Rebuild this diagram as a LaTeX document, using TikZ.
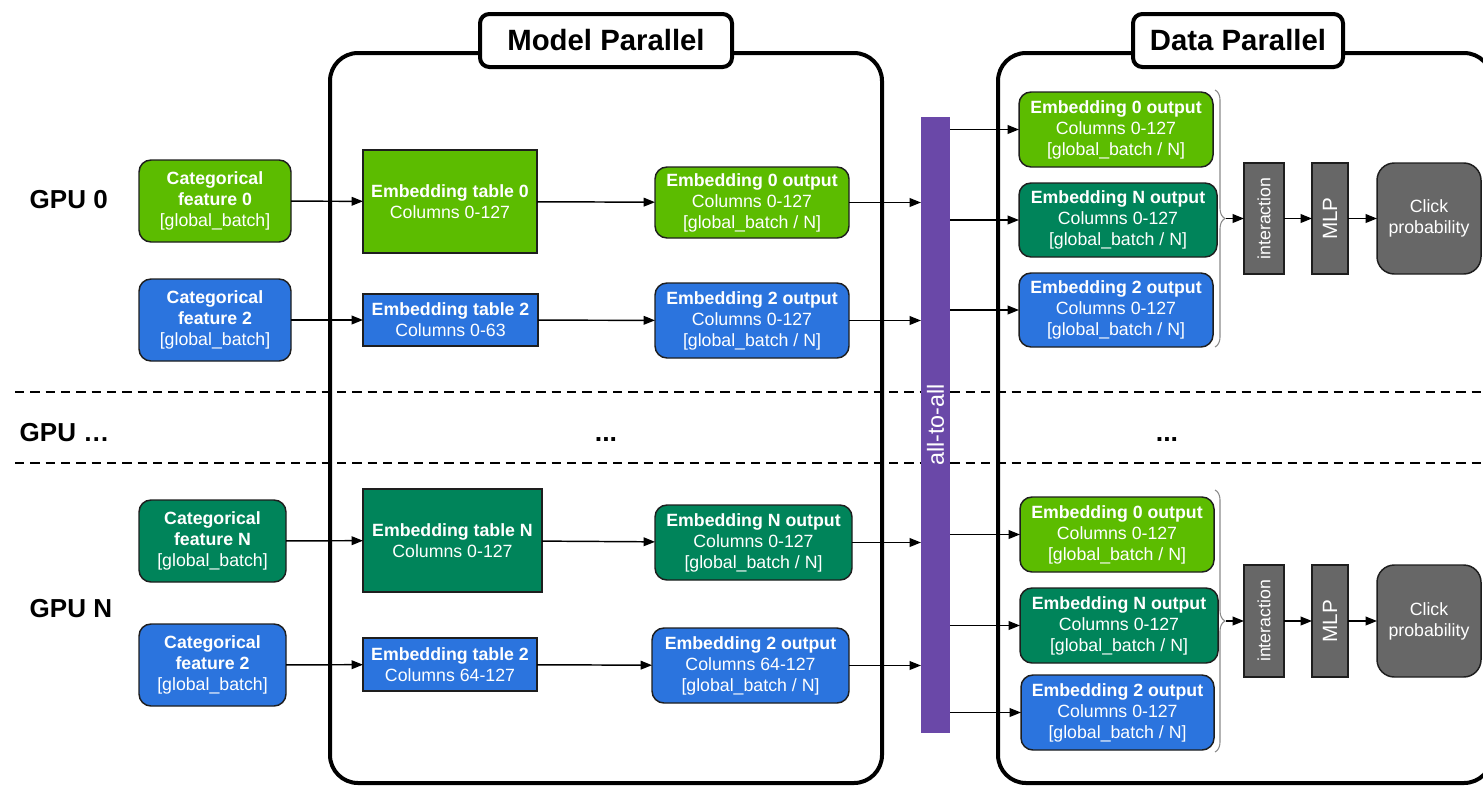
\documentclass[tikz,border=0pt]{standalone}
\usepackage{fontspec}
\setmainfont{Liberation Sans}
\usetikzlibrary{arrows.meta,decorations.pathreplacing}

\definecolor{lgreen}{HTML}{5CBC00}
\definecolor{dgreen}{HTML}{00845A}
\definecolor{eblue}{HTML}{2B74DE}
\definecolor{apurple}{HTML}{6A48A8}
\definecolor{mgray}{HTML}{676767}
\definecolor{edgec}{HTML}{1E1E1E}
\definecolor{bracec}{HTML}{8A8A8A}

\newcommand{\fs}{\fontsize{13.3}{15.75}\selectfont}
% box spanning corner (x1,y1) to corner (x2,y2), given in pixel units (1px = 0.75pt)
\newcommand{\bx}[7]{%
  \pgfmathsetmacro{\bxcx}{(#2+#4)/2}%
  \pgfmathsetmacro{\bxcy}{(#3+#5)/2}%
  \pgfmathsetmacro{\bxw}{abs(#4-#2)*0.75}%
  \pgfmathsetmacro{\bxh}{abs(#5-#3)*0.75}%
  \node[#6, anchor=center, minimum width=\bxw pt, minimum height=\bxh pt]
    (#1) at (\bxcx,\bxcy) {#7};}

\tikzset{
  base/.style={inner sep=0pt, outer sep=0pt, align=center, text=white, font=\fs},
  card/.style={base, draw=edgec, line width=1.1pt},
  rcard/.style={card, rounded corners=9pt},
  frame/.style={inner sep=0pt, outer sep=0pt, draw=black, line width=3pt, rounded corners=21pt},
  titlebox/.style={inner sep=0pt, outer sep=0pt, draw=black, fill=white, line width=3pt,
    rounded corners=7pt, font=\fontsize{22}{26}\selectfont\bfseries},
  gpulabel/.style={anchor=west, font=\fontsize{19.5}{24}\selectfont\bfseries},
  dotsl/.style={anchor=base, font=\fontsize{20}{24}\selectfont\bfseries},
  arr/.style={-{Triangle[length=8.5pt,width=6.5pt]}, line width=1.1pt, draw=black},
  sep/.style={dashed, dash pattern=on 7pt off 4.5pt, line width=1.4pt},
  gbrace/.style={decorate, decoration={brace, amplitude=7.5pt},
    draw=bracec, line width=0.8pt},
  vlabel/.style={rotate=90, text=white, font=\fs},
}

\begin{document}
\begin{tikzpicture}[x=0.75pt, y=-0.75pt]
\clip (0,0) rectangle (1483,785);
\useasboundingbox (0,0) rectangle (1483,785);

% GPU separators
\draw[sep] (15,392) -- (1483,392);
\draw[sep] (15,463) -- (1483,463);

% section frames and their titles
\bx{mpframe}{330}{53}{882}{783}{frame}{}
\bx{dpframe}{998}{53}{1492}{783}{frame}{}
\bx{mptitle}{480}{14}{732}{67}{titlebox}{Model Parallel}
\bx{dptitle}{1133}{14}{1343}{67}{titlebox}{Data Parallel}

% GPU labels
\node[gpulabel] (g0) at (25,200) {GPU 0};
\node[gpulabel] (gd) at (15,433) {GPU \dots};
\node[gpulabel] (gn) at (25,609) {GPU N};
\node[dotsl] (dm) at (606,441.5) {...};
\node[dotsl] (dd) at (1167,441.5) {...};

% ---- GPU 0, model parallel ----
\bx{f0}{139}{160}{291}{242}{rcard, fill=lgreen}{\textbf{Categorical}\\\textbf{feature 0}\\{[}global\_batch{]}}
\bx{f2}{139}{279}{291}{361}{rcard, fill=eblue}{\textbf{Categorical}\\\textbf{feature 2}\\{[}global\_batch{]}}
\bx{t0}{363}{150}{537}{253}{card, fill=lgreen}{\textbf{Embedding table 0}\\Columns 0-127}
\bx{t2}{363}{294}{538}{346}{card, fill=eblue}{\textbf{Embedding table 2}\\Columns 0-63}
\bx{o0}{655}{167}{849}{238}{rcard, fill=lgreen}{\textbf{Embedding 0 output}\\Columns 0-127\\{[}global\_batch / N{]}}
\bx{o2}{655}{283}{849}{358}{rcard, fill=eblue}{\textbf{Embedding 2 output}\\Columns 0-127\\{[}global\_batch / N{]}}

% ---- GPU N, model parallel ----
\bx{fn}{139}{500}{286}{582}{rcard, fill=dgreen}{\textbf{Categorical}\\\textbf{feature N}\\{[}global\_batch{]}}
\bx{fb}{139}{624}{286}{706}{rcard, fill=eblue}{\textbf{Categorical}\\\textbf{feature 2}\\{[}global\_batch{]}}
\bx{tn}{363}{489}{542}{592}{card, fill=dgreen}{\textbf{Embedding table N}\\Columns 0-127}
\bx{tb}{363}{638}{537}{691}{card, fill=eblue}{\textbf{Embedding table 2}\\Columns 64-127}
\bx{on}{655}{505}{852}{580}{rcard, fill=dgreen}{\textbf{Embedding N output}\\Columns 0-127\\{[}global\_batch / N{]}}
\bx{ob}{652}{628}{849}{703}{rcard, fill=eblue}{\textbf{Embedding 2 output}\\Columns 64-127\\{[}global\_batch / N{]}}

% all-to-all exchange
\bx{a2a}{921}{117}{950}{733}{base, fill=apurple}{}
\node[rotate=90, text=white, font=\fontsize{17.5}{20}\selectfont] (a2al) at (935.5,425) {all-to-all};

% ---- GPU 0, data parallel ----
\bx{d0a}{1019}{92}{1213}{167}{rcard, fill=lgreen}{\textbf{Embedding 0 output}\\Columns 0-127\\{[}global\_batch / N{]}}
\bx{d0b}{1019}{183}{1217}{257}{rcard, fill=dgreen}{\textbf{Embedding N output}\\Columns 0-127\\{[}global\_batch / N{]}}
\bx{d0c}{1019}{273}{1213}{347}{rcard, fill=eblue}{\textbf{Embedding 2 output}\\Columns 0-127\\{[}global\_batch / N{]}}
\bx{i0}{1244}{163}{1284}{274}{card, fill=mgray}{}
\bx{m0}{1312}{163}{1348}{274}{card, fill=mgray}{}
\bx{c0}{1377}{163}{1481}{274}{card, fill=mgray, rounded corners=13pt}{Click\\probability}
\node[vlabel] (i0l) at (i0) {interaction};
\node[vlabel, font=\fontsize{15.5}{18}\selectfont] (m0l) at (m0) {MLP};

% ---- GPU N, data parallel ----
\bx{d1a}{1020}{497}{1214}{572}{rcard, fill=lgreen}{\textbf{Embedding 0 output}\\Columns 0-127\\{[}global\_batch / N{]}}
\bx{d1b}{1020}{588}{1218}{663}{rcard, fill=dgreen}{\textbf{Embedding N output}\\Columns 0-127\\{[}global\_batch / N{]}}
\bx{d1c}{1021}{675}{1214}{750}{rcard, fill=eblue}{\textbf{Embedding 2 output}\\Columns 0-127\\{[}global\_batch / N{]}}
\bx{i1}{1244}{565}{1284}{677}{card, fill=mgray}{}
\bx{m1}{1312}{565}{1348}{677}{card, fill=mgray}{}
\bx{c1}{1377}{565}{1481}{677}{card, fill=mgray, rounded corners=13pt}{Click\\probability}
\node[vlabel] (i1l) at (i1) {interaction};
\node[vlabel, font=\fontsize{15.5}{18}\selectfont] (m1l) at (m1) {MLP};

% braces gathering the per-GPU embeddings
\draw[gbrace] (1215,90) -- (1215,347);
\draw[gbrace] (1215,490) -- (1215,752);
\coordinate (br0) at (1226,218.5);
\coordinate (br1) at (1226,621);

% lookups
\draw[arr] (f0) -- (t0);
\draw[arr] (f2) -- (t2);
\draw[arr] (t0) -- (o0);
\draw[arr] (t2) -- (o2);
\draw[arr] (fn) -- (tn);
\draw[arr] (fb) -- (tb);
\draw[arr] (tn) -- (on);
\draw[arr] (tb) -- (ob);

% into the exchange
\draw[arr] (o0.east) -- (o0.east -| a2a.west);
\draw[arr] (o2.east) -- (o2.east -| a2a.west);
\draw[arr] (on.east) -- (on.east -| a2a.west);
\draw[arr] (ob.east) -- (ob.east -| a2a.west);

% out of the exchange
\foreach \d in {d0a,d0b,d0c,d1a,d1b,d1c}
  \draw[arr] (a2a.east |- \d.west) -- (\d.west);

% dense part
\draw[arr] (br0) -- (i0);
\draw[arr] (i0) -- (m0);
\draw[arr] (m0) -- (c0);
\draw[arr] (br1) -- (i1);
\draw[arr] (i1) -- (m1);
\draw[arr] (m1) -- (c1);
\end{tikzpicture}
\end{document}
